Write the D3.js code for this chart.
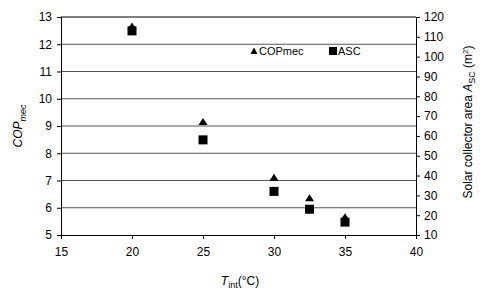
<!DOCTYPE html>
<html>
<head>
<meta charset="utf-8">
<script src="https://cdn.jsdelivr.net/npm/d3@7"></script>
<style>
  body { margin: 0; background: #fff; }
  text { font-family: "Liberation Sans", Arial, sans-serif; fill: #000; }
</style>
</head>
<body>
<div id="figure"></div>
<script>
// data
const tint = [20, 25, 30, 32.5, 35]
const copMec = [12.65, 9.15, 7.1, 6.35, 5.65]
const asc = [113, 58, 32, 23, 16.5]
const xTicks = [15, 20, 25, 30, 35, 40]
const yTicks = [5, 6, 7, 8, 9, 10, 11, 12, 13]
const y2Ticks = [10, 20, 30, 40, 50, 60, 70, 80, 90, 100, 110, 120]

const width = 480
const height = 298
const margin = { TOP: 17, LEFT: 61, RIGHT: 64, BOTTOM: 63 }

const svg = d3.select('#figure').append('svg').attr('width', width).attr('height', height)

const x = d3.scaleLinear().domain([15, 40]).range([margin.LEFT, width - margin.RIGHT])
const y = d3.scaleLinear().domain([5, 13]).range([height - margin.BOTTOM, margin.TOP])
const y2 = d3.scaleLinear().domain([10, 120]).range([height - margin.BOTTOM, margin.TOP])

// gridlines
svg.append('g').selectAll('line').data(yTicks.slice(1, -1)).enter().append('line')
  .attr('x1', x(15)).attr('x2', x(40))
  .attr('y1', d => y(d)).attr('y2', d => y(d))
  .attr('stroke', '#555').attr('stroke-width', 1)
svg.append('line').attr('x1', x(15)).attr('x2', x(40)).attr('y1', y(13)).attr('y2', y(13)).attr('stroke', '#000')

// axes
const xAxis = svg.append('g').attr('transform', `translate(0,${y(5)})`)
  .call(d3.axisBottom(x).tickValues(xTicks).tickSize(4).tickPadding(8))
const yAxis = svg.append('g').attr('transform', `translate(${x(15)},0)`)
  .call(d3.axisLeft(y).tickValues(yTicks).tickSize(4).tickPadding(5))
const y2Axis = svg.append('g').attr('transform', `translate(${x(40)},0)`)
  .call(d3.axisRight(y2).tickValues(y2Ticks).tickSize(4).tickPadding(4))

;[xAxis, yAxis, y2Axis].forEach(a => {
  a.select('.domain').attr('stroke', '#000')
  a.selectAll('.tick line').attr('stroke', '#000')
  a.selectAll('text').attr('font-size', 12).attr('font-family', '"Liberation Sans", Arial, sans-serif')
})

// markers
const triPath = 'M0,-4L4.5,3L-4.5,3Z'
svg.append('g').selectAll('path').data(tint).enter().append('path')
  .attr('d', triPath)
  .attr('transform', (d, i) => `translate(${x(d)},${y(copMec[i])})`)
  .attr('fill', '#000')

svg.append('g').selectAll('rect').data(tint).enter().append('rect')
  .attr('x', d => x(d) - 4.5).attr('y', (d, i) => y2(asc[i]) - 4.5)
  .attr('width', 9).attr('height', 9).attr('fill', '#000')

// legend
const lg = svg.append('g').attr('font-size', 11)
lg.append('path').attr('d', 'M0,-3.5L3.5,3L-3.5,3Z').attr('transform', 'translate(254,51)')
lg.append('text').attr('x', 259).attr('y', 55).attr('font-size', 11).text('COPmec')
lg.append('rect').attr('x', 329).attr('y', 47).attr('width', 8).attr('height', 8)
lg.append('text').attr('x', 338).attr('y', 55).attr('font-size', 11).text('ASC')

// axis titles
const xt = svg.append('text').attr('x', 240).attr('y', 285).attr('text-anchor', 'middle').attr('font-size', 12)
xt.append('tspan').attr('font-style', 'italic').text('T')
xt.append('tspan').attr('font-size', 9).attr('dy', 3).text('int')
xt.append('tspan').attr('dy', -3).text('(°C)')

const yt = svg.append('text').attr('transform', `translate(22,${(y(5) + y(13)) / 2}) rotate(-90)`)
  .attr('text-anchor', 'middle').attr('font-size', 12)
yt.append('tspan').attr('font-style', 'italic').text('COP')
yt.append('tspan').attr('font-style', 'italic').attr('font-size', 9).attr('dy', 4).text('mec')

const y2t = svg.append('text').attr('transform', `translate(472,${(y(5) + y(13)) / 2 - 4}) rotate(-90)`)
  .attr('text-anchor', 'middle').attr('font-size', 12)
y2t.append('tspan').text('Solar collector area ')
y2t.append('tspan').attr('font-style', 'italic').text('A')
y2t.append('tspan').attr('font-size', 9).attr('dy', 3).text('SC')
y2t.append('tspan').attr('dy', -3).text(' (m')
y2t.append('tspan').attr('font-size', 8).attr('dy', -4).text('2')
y2t.append('tspan').attr('dy', 4).text(')')
</script>
</body>
</html>
